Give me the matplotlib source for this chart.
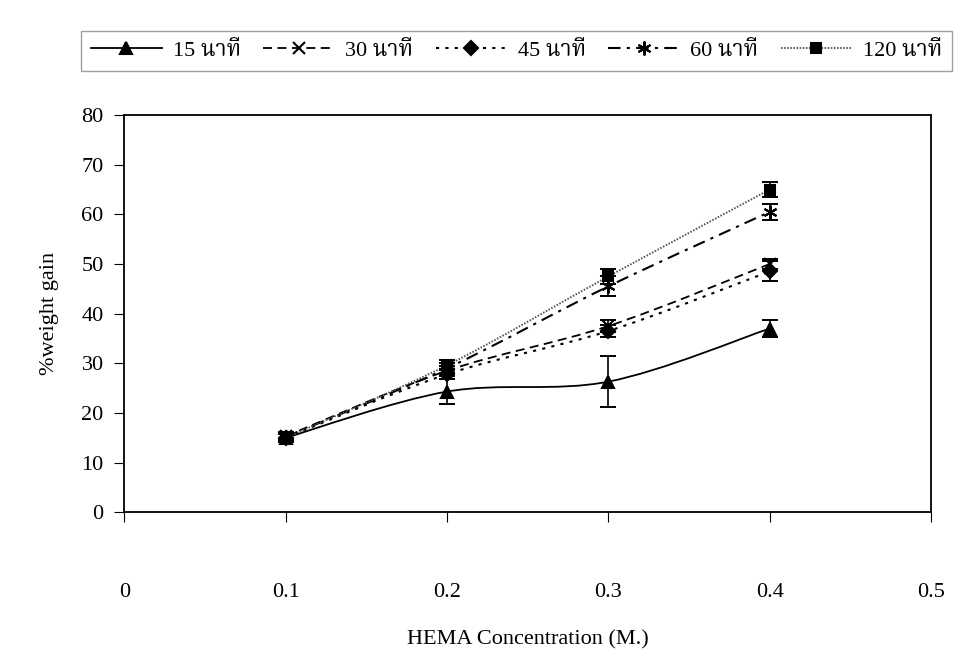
import matplotlib.pyplot as plt
from matplotlib.path import Path
from matplotlib.patches import PathPatch

plt.rcParams['font.family'] = ['Liberation Serif', 'Noto Serif Thai', 'FreeSerif', 'DejaVu Sans']

conc = [0.1, 0.2, 0.3, 0.4]
labels = ['15 นาที', '30 นาที', '45 นาที', '60 นาที', '120 นาที']
gain_15 = [15.0, 24.3, 26.3, 37.0]
gain_30 = [15.3, 28.5, 37.5, 50.0]
gain_45 = [15.0, 27.8, 36.5, 48.5]
gain_60 = [15.2, 29.0, 45.5, 60.5]
gain_120 = [15.0, 29.6, 47.5, 65.0]
err_15 = [0.8, 2.6, 5.2, 1.7]
err_30 = [0.8, 1.0, 1.2, 1.0]
err_45 = [0.8, 1.0, 1.2, 2.0]
err_60 = [0.8, 1.0, 2.0, 1.6]
err_120 = [0.8, 1.0, 1.5, 1.5]

series = [gain_15, gain_30, gain_45, gain_60, gain_120]
errs = [err_15, err_30, err_45, err_60, err_120]
markers = ['^', 'x', 'D', (6, 2, 0), 's']
sizes = [9, 8, 7, 10, 7]
styles = ['-', (0, (5, 3)), (0, (1.5, 3)), (0, (6, 3, 1.5, 3)), (0, (0.8, 0.8))]
widths = [1.3, 1.3, 1.5, 1.5, 1.4]


def smooth_path(x, y):
    # excel-like smoothed line (catmull-rom bezier)
    pts = list(zip(x, y))
    verts = [pts[0]]
    codes = [Path.MOVETO]
    n = len(pts)
    for i in range(n - 1):
        p0 = pts[i - 1] if i > 0 else pts[i]
        p1 = pts[i]
        p2 = pts[i + 1]
        p3 = pts[i + 2] if i + 2 < n else pts[i + 1]
        c1 = (p1[0] + (p2[0] - p0[0]) / 6, p1[1] + (p2[1] - p0[1]) / 6)
        c2 = (p2[0] - (p3[0] - p1[0]) / 6, p2[1] - (p3[1] - p1[1]) / 6)
        verts += [c1, c2, p2]
        codes += [Path.CURVE4] * 3
    return Path(verts, codes)


fig = plt.figure(figsize=(9.8, 6.5), dpi=100)
ax = fig.add_axes([0.127, 0.212, 0.823, 0.611])

handles = []
for y, e, m, s, ls, lw, lab in zip(series, errs, markers, sizes, styles, widths, labels):
    col = '#555555' if lab == '120 นาที' else 'black'
    ax.add_patch(PathPatch(smooth_path(conc, y), fill=False, edgecolor=col,
                           linestyle=ls, linewidth=lw))
    ax.errorbar(conc, y, yerr=e, fmt='none', ecolor='black', elinewidth=1.2,
                capsize=6, capthick=1.4)
    ax.plot(conc, y, linestyle='none', marker=m, markersize=s, color='black',
            markeredgewidth=1.5)
    h, = ax.plot([], [], linestyle=ls, color=col, linewidth=lw, marker=m,
                 markersize=s, markerfacecolor='black', markeredgecolor='black',
                 markeredgewidth=1.5, label=lab)
    handles.append(h)

ax.set_xlim(0, 0.5)
ax.set_ylim(0, 80)
ax.set_xticks([0, 0.1, 0.2, 0.3, 0.4, 0.5])
ax.set_xticklabels(['0', '0.1', '0.2', '0.3', '0.4', '0.5'])
ax.set_yticks(range(0, 81, 10))
ax.tick_params(axis='x', direction='out', length=7, pad=44, labelsize=16)
ax.tick_params(axis='y', direction='out', length=7, pad=8, labelsize=16)
for sp in ax.spines.values():
    sp.set_linewidth(1.3)
ax.set_xlabel('HEMA Concentration (M.)', fontsize=16, labelpad=20)
ax.set_ylabel('%weight gain', fontsize=16, labelpad=16)

leg = fig.legend(handles=handles, loc='upper left', bbox_to_anchor=(0.071, 0.97),
                 ncol=5, frameon=True, fontsize=16, handlelength=3.2,
                 columnspacing=1.0, handletextpad=0.5, fancybox=False,
                 borderpad=0.45)
leg.get_frame().set_edgecolor('#888888')
leg.get_frame().set_linewidth(1.0)

fig.savefig('out.png', dpi=100)
